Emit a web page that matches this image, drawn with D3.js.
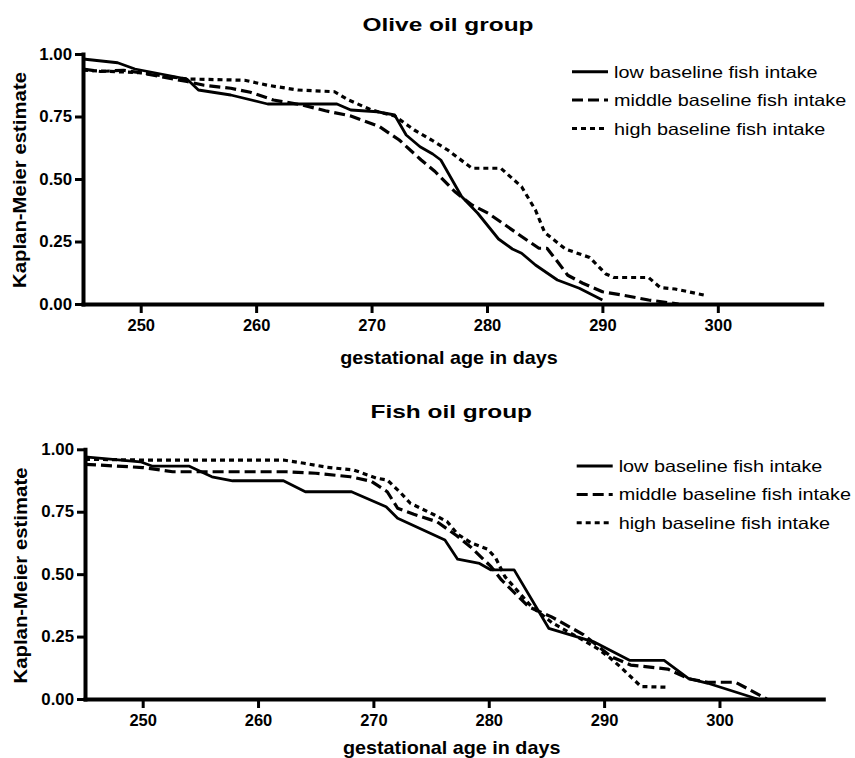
<!DOCTYPE html>
<html>
<head>
<meta charset="utf-8">
<script src="https://cdn.jsdelivr.net/npm/d3@7"></script>
<style>
body{margin:0;background:#fff}
svg{display:block}
text{font-family:"Liberation Sans",Arial,Helvetica,sans-serif;fill:#000}
</style>
</head>
<body>
<svg id="chart" width="855" height="758"></svg>
<script>
// --- data ---
var panelTitles = ["Olive oil group", "Fish oil group"];
var seriesNames = ["low baseline fish intake", "middle baseline fish intake", "high baseline fish intake"];
var xLabel = "gestational age in days";
var yLabel = "Kaplan-Meier estimate";
var xDomain = [245, 309];
var xTicks = [250, 260, 270, 280, 290, 300];
var yTicks = [0, 0.25, 0.5, 0.75, 1];

// olive oil group
var oliveLowDay = [245, 248, 249.5, 254, 255, 257.8, 261, 267, 268.2, 270.5, 272, 273, 274.2, 275.3, 276, 277.8, 279.2, 281, 282.2, 283, 284.2, 286.1, 288, 290];
var oliveLowKM  = [0.98, 0.965, 0.94, 0.90, 0.856, 0.836, 0.80, 0.80, 0.776, 0.769, 0.756, 0.676, 0.629, 0.60, 0.576, 0.43, 0.363, 0.26, 0.22, 0.203, 0.156, 0.096, 0.063, 0.016];
var oliveMidDay = [245, 246.5, 248.5, 250, 254, 255.5, 257.8, 259.5, 261.5, 264, 266, 268.2, 270.7, 272.4, 274.3, 275.5, 277.2, 278.7, 280.1, 281.8, 283, 284.5, 285.2, 286.1, 287, 288.3, 290, 291.7, 294, 296.6];
var oliveMidKM  = [0.94, 0.93, 0.935, 0.925, 0.89, 0.875, 0.863, 0.847, 0.816, 0.796, 0.773, 0.752, 0.709, 0.656, 0.576, 0.53, 0.45, 0.396, 0.363, 0.309, 0.27, 0.223, 0.223, 0.17, 0.115, 0.083, 0.049, 0.036, 0.016, 0];
var oliveHighDay = [245, 250, 254, 259, 261, 263.6, 266.8, 268, 270, 272, 273.7, 275.2, 276.6, 278.7, 281.2, 283, 284.2, 285, 286.8, 288.9, 290.3, 291, 294, 295, 296.3, 299];
var oliveHighKM  = [0.935, 0.925, 0.90, 0.895, 0.875, 0.856, 0.849, 0.816, 0.776, 0.752, 0.696, 0.656, 0.616, 0.543, 0.543, 0.469, 0.376, 0.286, 0.22, 0.186, 0.12, 0.106, 0.106, 0.066, 0.06, 0.034];

// fish oil group
var fishLowDay = [245, 249.8, 250.8, 254, 256, 257.8, 262.2, 264.1, 268.1, 271.1, 272.1, 276.2, 277.3, 279.2, 280.2, 282.2, 285.2, 289.1, 292.2, 295.2, 297.3, 299, 303.3];
var fishLowKM  = [0.97, 0.95, 0.933, 0.933, 0.89, 0.874, 0.874, 0.83, 0.83, 0.77, 0.724, 0.637, 0.56, 0.543, 0.517, 0.517, 0.283, 0.229, 0.155, 0.155, 0.083, 0.063, 0];
var fishMidDay = [245, 250, 252.6, 262.5, 265, 268, 269.8, 271.2, 272.1, 273.5, 275.5, 277.2, 278.4, 280.2, 281.1, 283.5, 285.4, 288.2, 290.6, 292.3, 295.5, 297.4, 299, 301.4, 304.1];
var fishMidKM  = [0.94, 0.927, 0.91, 0.91, 0.904, 0.89, 0.872, 0.83, 0.764, 0.74, 0.71, 0.655, 0.61, 0.53, 0.477, 0.368, 0.33, 0.258, 0.17, 0.136, 0.12, 0.08, 0.067, 0.067, 0];
var fishHighDay = [245, 250, 262.2, 264, 266, 268.3, 270.3, 271.2, 272.4, 273.2, 275.3, 276.4, 277.3, 278.5, 279.9, 280.6, 281.4, 283.7, 285.5, 287.7, 289.5, 290.5, 291.5, 293.2, 295.5];
var fishHighKM  = [0.96, 0.957, 0.957, 0.944, 0.928, 0.917, 0.884, 0.877, 0.824, 0.784, 0.737, 0.71, 0.66, 0.625, 0.60, 0.565, 0.49, 0.37, 0.305, 0.248, 0.2, 0.165, 0.125, 0.05, 0.047];

var dashes = [null, "11,5", "5,4"];

function zip(days, km){
	var out = [];
	for (var i = 0; i < days.length; i++) out.push({day: days[i], km: km[i]});
	return out;
}

var panels = [
	{title: panelTitles[0], series: [zip(oliveLowDay, oliveLowKM), zip(oliveMidDay, oliveMidKM), zip(oliveHighDay, oliveHighKM)],
	 left: 83, right: 821.7, top: 54, bottom: 304, titleX: 448, titleY: 31, xlabX: 449, xlabY: 364, ylabX: 26, ylabY: 180, legX: 572, legY: 71.7},
	{title: panelTitles[1], series: [zip(fishLowDay, fishLowKM), zip(fishMidDay, fishMidKM), zip(fishHighDay, fishHighKM)],
	 left: 85, right: 823.3, top: 449.3, bottom: 699, titleX: 451.3, titleY: 418.3, xlabX: 451.7, xlabY: 753.5, ylabX: 26.7, ylabY: 575.5, legX: 576.7, legY: 466}
];

var svg = d3.select("#chart");

// the reference text is a bit wider than the font, widen it
function stretch(sel, k){
	sel.each(function(){
		var w = this.getComputedTextLength();
		d3.select(this).attr("textLength", w * k).attr("lengthAdjust", "spacingAndGlyphs");
	});
}

function drawPanel(p){
	var x = d3.scaleLinear().domain(xDomain).range([p.left, p.right]);
	var y = d3.scaleLinear().domain([0, 1]).range([p.bottom, p.top]);
	var g = svg.append("g");

	var xa = g.append("g")
		.attr("transform", "translate(0," + p.bottom + ")")
		.call(d3.axisBottom(x).tickValues(xTicks).tickSize(9).tickSizeOuter(0).tickPadding(7).tickFormat(d3.format("d")));
	var ya = g.append("g")
		.attr("transform", "translate(" + p.left + ",0)")
		.call(d3.axisLeft(y).tickValues(yTicks).tickSize(8).tickSizeOuter(0).tickPadding(3).tickFormat(d3.format(".2f")));

	[xa, ya].forEach(function(a){
		a.attr("font-family", null).attr("font-size", null);
		a.select(".domain").attr("stroke", "#000").attr("stroke-width", 4).attr("stroke-linecap", "square");
		a.selectAll(".tick line").attr("stroke", "#000").attr("stroke-width", 3);
		a.selectAll(".tick text").attr("fill", "#000").style("font-size", "16px").style("font-weight", "bold");
	});
	stretch(xa.selectAll(".tick text"), 1.03);
	stretch(ya.selectAll(".tick text"), 1.05);

	var line = d3.line().x(function(d){ return x(d.day); }).y(function(d){ return y(d.km); });
	g.selectAll(".km")
		.data(p.series)
		.enter().append("path")
		.attr("class", "km")
		.attr("d", line)
		.attr("fill", "none")
		.attr("stroke", "#000")
		.attr("stroke-width", function(d, i){ return i == 0 ? 2.8 : 3.2; })
		.attr("stroke-linejoin", "round")
		.attr("stroke-dasharray", function(d, i){ return dashes[i]; });

	var t = g.append("text")
		.attr("x", p.titleX).attr("y", p.titleY)
		.attr("text-anchor", "middle")
		.style("font-size", "18.5px").style("font-weight", "bold")
		.text(p.title);
	stretch(t, 1.32);

	var xl = g.append("text")
		.attr("x", p.xlabX).attr("y", p.xlabY)
		.attr("text-anchor", "middle")
		.style("font-size", "19px").style("font-weight", "bold")
		.text(xLabel);
	stretch(xl, 1.04);

	var yl = g.append("text")
		.attr("transform", "translate(" + p.ylabX + "," + p.ylabY + ") rotate(-90)")
		.attr("text-anchor", "middle")
		.style("font-size", "18.5px").style("font-weight", "bold")
		.text(yLabel);
	stretch(yl, 1.1);

	var leg = g.selectAll(".leg")
		.data(seriesNames)
		.enter().append("g")
		.attr("class", "leg")
		.attr("transform", function(d, i){ return "translate(" + p.legX + "," + (p.legY + i * 28.4) + ")"; });
	leg.append("line")
		.attr("x1", 0).attr("x2", 36).attr("y1", 0).attr("y2", 0)
		.attr("stroke", "#000").attr("stroke-width", 3)
		.attr("stroke-dasharray", function(d, i){ return dashes[i]; });
	var lt = leg.append("text")
		.attr("x", 42).attr("y", 6)
		.style("font-size", "16.5px")
		.text(function(d){ return d; });
	stretch(lt, 1.2);
}

panels.forEach(drawPanel);
</script>
</body>
</html>
